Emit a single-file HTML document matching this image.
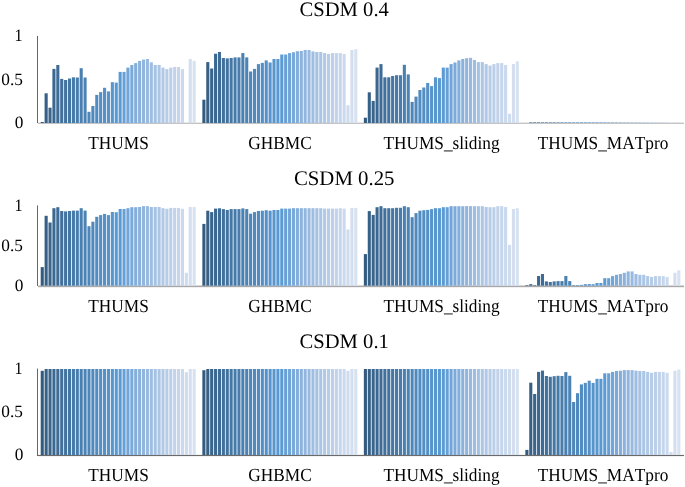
<!DOCTYPE html>
<html><head><meta charset="utf-8"><style>html,body{margin:0;padding:0;background:#fff;width:685px;height:487px;overflow:hidden}body{position:relative;font-family:"Liberation Serif",serif}</style></head>
<body><div style="position:absolute;left:0;top:0;width:685px;height:487px;will-change:transform"><svg width="685" height="487" viewBox="0 0 685 487" style="position:absolute;left:0;top:0">
<rect x="38" y="122" width="646" height="1" fill="#e8e8e8"/>
<rect x="40.700" y="122.00" width="3.095" height="1.00" fill="#335b7f"/>
<rect x="44.595" y="93.30" width="3.095" height="29.70" fill="#366085"/>
<rect x="48.490" y="107.70" width="3.095" height="15.30" fill="#39648b"/>
<rect x="52.385" y="68.90" width="3.095" height="54.10" fill="#3b6890"/>
<rect x="56.280" y="65.00" width="3.095" height="58.00" fill="#3e6c96"/>
<rect x="60.175" y="78.90" width="3.095" height="44.10" fill="#40709b"/>
<rect x="64.070" y="80.00" width="3.095" height="43.00" fill="#42739f"/>
<rect x="67.965" y="78.50" width="3.095" height="44.50" fill="#4477a4"/>
<rect x="71.860" y="77.30" width="3.095" height="45.70" fill="#467aa8"/>
<rect x="75.755" y="77.50" width="3.095" height="45.50" fill="#487dad"/>
<rect x="79.650" y="68.20" width="3.095" height="54.80" fill="#4a80b1"/>
<rect x="83.545" y="77.50" width="3.095" height="45.50" fill="#4c83b5"/>
<rect x="87.440" y="111.80" width="3.095" height="11.20" fill="#4e86b9"/>
<rect x="91.335" y="106.00" width="3.095" height="17.00" fill="#5089bd"/>
<rect x="95.230" y="94.90" width="3.095" height="28.10" fill="#518cc0"/>
<rect x="99.125" y="92.10" width="3.095" height="30.90" fill="#538ec4"/>
<rect x="103.020" y="87.80" width="3.095" height="35.20" fill="#5591c8"/>
<rect x="106.915" y="91.40" width="3.095" height="31.60" fill="#5694cb"/>
<rect x="110.810" y="82.20" width="3.095" height="40.80" fill="#5896ce"/>
<rect x="114.705" y="82.60" width="3.095" height="40.40" fill="#5999d2"/>
<rect x="118.600" y="71.90" width="3.095" height="51.10" fill="#5b9bd5"/>
<rect x="122.495" y="71.90" width="3.095" height="51.10" fill="#67a0d7"/>
<rect x="126.390" y="67.60" width="3.095" height="55.40" fill="#71a4d8"/>
<rect x="130.285" y="65.00" width="3.095" height="58.00" fill="#7aa9da"/>
<rect x="134.180" y="63.10" width="3.095" height="59.90" fill="#83addb"/>
<rect x="138.075" y="60.90" width="3.095" height="62.10" fill="#8bb1dd"/>
<rect x="141.970" y="59.60" width="3.095" height="63.40" fill="#92b5de"/>
<rect x="145.865" y="59.00" width="3.095" height="64.00" fill="#99b9e0"/>
<rect x="149.760" y="62.30" width="3.095" height="60.70" fill="#9fbde1"/>
<rect x="153.655" y="65.00" width="3.095" height="58.00" fill="#a5c1e3"/>
<rect x="157.550" y="65.00" width="3.095" height="58.00" fill="#abc5e4"/>
<rect x="161.445" y="67.60" width="3.095" height="55.40" fill="#b1c8e6"/>
<rect x="165.340" y="69.10" width="3.095" height="53.90" fill="#b6cce7"/>
<rect x="169.235" y="67.60" width="3.095" height="55.40" fill="#bccfe9"/>
<rect x="173.130" y="67.00" width="3.095" height="56.00" fill="#c1d2ea"/>
<rect x="177.025" y="67.00" width="3.095" height="56.00" fill="#c5d6ec"/>
<rect x="180.920" y="69.10" width="3.095" height="53.90" fill="#cad9ed"/>
<rect x="188.710" y="59.00" width="3.095" height="64.00" fill="#d3dff0"/>
<rect x="192.605" y="60.90" width="3.095" height="62.10" fill="#d7e2f1"/>
<rect x="202.350" y="99.70" width="3.095" height="23.30" fill="#335b7f"/>
<rect x="206.245" y="62.10" width="3.095" height="60.90" fill="#366085"/>
<rect x="210.140" y="68.50" width="3.095" height="54.50" fill="#39648b"/>
<rect x="214.035" y="53.70" width="3.095" height="69.30" fill="#3b6890"/>
<rect x="217.930" y="52.00" width="3.095" height="71.00" fill="#3e6c96"/>
<rect x="221.825" y="58.00" width="3.095" height="65.00" fill="#40709b"/>
<rect x="225.720" y="58.40" width="3.095" height="64.60" fill="#42739f"/>
<rect x="229.615" y="58.00" width="3.095" height="65.00" fill="#4477a4"/>
<rect x="233.510" y="57.40" width="3.095" height="65.60" fill="#467aa8"/>
<rect x="237.405" y="57.40" width="3.095" height="65.60" fill="#487dad"/>
<rect x="241.300" y="53.10" width="3.095" height="69.90" fill="#4a80b1"/>
<rect x="245.195" y="57.40" width="3.095" height="65.60" fill="#4c83b5"/>
<rect x="249.090" y="71.50" width="3.095" height="51.50" fill="#4e86b9"/>
<rect x="252.985" y="68.90" width="3.095" height="54.10" fill="#5089bd"/>
<rect x="256.880" y="64.10" width="3.095" height="58.90" fill="#518cc0"/>
<rect x="260.775" y="62.90" width="3.095" height="60.10" fill="#538ec4"/>
<rect x="264.670" y="60.40" width="3.095" height="62.60" fill="#5591c8"/>
<rect x="268.565" y="62.50" width="3.095" height="60.50" fill="#5694cb"/>
<rect x="272.460" y="59.00" width="3.095" height="64.00" fill="#5896ce"/>
<rect x="276.355" y="59.00" width="3.095" height="64.00" fill="#5999d2"/>
<rect x="280.250" y="54.50" width="3.095" height="68.50" fill="#5b9bd5"/>
<rect x="284.145" y="54.50" width="3.095" height="68.50" fill="#67a0d7"/>
<rect x="288.040" y="53.10" width="3.095" height="69.90" fill="#71a4d8"/>
<rect x="291.935" y="52.20" width="3.095" height="70.80" fill="#7aa9da"/>
<rect x="295.830" y="51.20" width="3.095" height="71.80" fill="#83addb"/>
<rect x="299.725" y="51.00" width="3.095" height="72.00" fill="#8bb1dd"/>
<rect x="303.620" y="50.00" width="3.095" height="73.00" fill="#92b5de"/>
<rect x="307.515" y="50.00" width="3.095" height="73.00" fill="#99b9e0"/>
<rect x="311.410" y="51.40" width="3.095" height="71.60" fill="#9fbde1"/>
<rect x="315.305" y="52.00" width="3.095" height="71.00" fill="#a5c1e3"/>
<rect x="319.200" y="52.00" width="3.095" height="71.00" fill="#abc5e4"/>
<rect x="323.095" y="53.10" width="3.095" height="69.90" fill="#b1c8e6"/>
<rect x="326.990" y="53.90" width="3.095" height="69.10" fill="#b6cce7"/>
<rect x="330.885" y="53.10" width="3.095" height="69.90" fill="#bccfe9"/>
<rect x="334.780" y="53.10" width="3.095" height="69.90" fill="#c1d2ea"/>
<rect x="338.675" y="53.10" width="3.095" height="69.90" fill="#c5d6ec"/>
<rect x="342.570" y="53.90" width="3.095" height="69.10" fill="#cad9ed"/>
<rect x="346.465" y="105.20" width="3.095" height="17.80" fill="#cfdcee"/>
<rect x="350.360" y="50.00" width="3.095" height="73.00" fill="#d3dff0"/>
<rect x="354.255" y="49.20" width="3.095" height="73.80" fill="#d7e2f1"/>
<rect x="363.850" y="117.70" width="3.095" height="5.30" fill="#335b7f"/>
<rect x="367.745" y="92.30" width="3.095" height="30.70" fill="#366085"/>
<rect x="371.640" y="100.90" width="3.095" height="22.10" fill="#39648b"/>
<rect x="375.535" y="67.60" width="3.095" height="55.40" fill="#3b6890"/>
<rect x="379.430" y="64.10" width="3.095" height="58.90" fill="#3e6c96"/>
<rect x="383.325" y="77.30" width="3.095" height="45.70" fill="#40709b"/>
<rect x="387.220" y="77.30" width="3.095" height="45.70" fill="#42739f"/>
<rect x="391.115" y="76.00" width="3.095" height="47.00" fill="#4477a4"/>
<rect x="395.010" y="75.20" width="3.095" height="47.80" fill="#467aa8"/>
<rect x="398.905" y="75.20" width="3.095" height="47.80" fill="#487dad"/>
<rect x="402.800" y="64.80" width="3.095" height="58.20" fill="#4a80b1"/>
<rect x="406.695" y="74.40" width="3.095" height="48.60" fill="#4c83b5"/>
<rect x="410.590" y="101.90" width="3.095" height="21.10" fill="#4e86b9"/>
<rect x="414.485" y="96.60" width="3.095" height="26.40" fill="#5089bd"/>
<rect x="418.380" y="90.00" width="3.095" height="33.00" fill="#518cc0"/>
<rect x="422.275" y="87.50" width="3.095" height="35.50" fill="#538ec4"/>
<rect x="426.170" y="83.00" width="3.095" height="40.00" fill="#5591c8"/>
<rect x="430.065" y="86.10" width="3.095" height="36.90" fill="#5694cb"/>
<rect x="433.960" y="77.30" width="3.095" height="45.70" fill="#5896ce"/>
<rect x="437.855" y="78.10" width="3.095" height="44.90" fill="#5999d2"/>
<rect x="441.750" y="67.60" width="3.095" height="55.40" fill="#5b9bd5"/>
<rect x="445.645" y="67.60" width="3.095" height="55.40" fill="#67a0d7"/>
<rect x="449.540" y="64.10" width="3.095" height="58.90" fill="#71a4d8"/>
<rect x="453.435" y="62.50" width="3.095" height="60.50" fill="#7aa9da"/>
<rect x="457.330" y="60.40" width="3.095" height="62.60" fill="#83addb"/>
<rect x="461.225" y="59.00" width="3.095" height="64.00" fill="#8bb1dd"/>
<rect x="465.120" y="58.20" width="3.095" height="64.80" fill="#92b5de"/>
<rect x="469.015" y="57.80" width="3.095" height="65.20" fill="#99b9e0"/>
<rect x="472.910" y="60.00" width="3.095" height="63.00" fill="#9fbde1"/>
<rect x="476.805" y="62.10" width="3.095" height="60.90" fill="#a5c1e3"/>
<rect x="480.700" y="62.10" width="3.095" height="60.90" fill="#abc5e4"/>
<rect x="484.595" y="64.10" width="3.095" height="58.90" fill="#b1c8e6"/>
<rect x="488.490" y="65.60" width="3.095" height="57.40" fill="#b6cce7"/>
<rect x="492.385" y="64.10" width="3.095" height="58.90" fill="#bccfe9"/>
<rect x="496.280" y="63.10" width="3.095" height="59.90" fill="#c1d2ea"/>
<rect x="500.175" y="63.10" width="3.095" height="59.90" fill="#c5d6ec"/>
<rect x="504.070" y="65.00" width="3.095" height="58.00" fill="#cad9ed"/>
<rect x="507.965" y="113.80" width="3.095" height="9.20" fill="#cfdcee"/>
<rect x="511.860" y="64.10" width="3.095" height="58.90" fill="#d3dff0"/>
<rect x="515.755" y="61.30" width="3.095" height="61.70" fill="#d7e2f1"/>
<rect x="529.245" y="122.45" width="3.095" height="0.55" fill="#366085"/>
<rect x="533.140" y="122.45" width="3.095" height="0.55" fill="#39648b"/>
<rect x="537.035" y="122.45" width="3.095" height="0.55" fill="#3b6890"/>
<rect x="540.930" y="122.45" width="3.095" height="0.55" fill="#3e6c96"/>
<rect x="544.825" y="122.45" width="3.095" height="0.55" fill="#40709b"/>
<rect x="548.720" y="122.45" width="3.095" height="0.55" fill="#42739f"/>
<rect x="552.615" y="122.45" width="3.095" height="0.55" fill="#4477a4"/>
<rect x="556.510" y="122.45" width="3.095" height="0.55" fill="#467aa8"/>
<rect x="560.405" y="122.45" width="3.095" height="0.55" fill="#487dad"/>
<rect x="564.300" y="122.45" width="3.095" height="0.55" fill="#4a80b1"/>
<rect x="568.195" y="122.45" width="3.095" height="0.55" fill="#4c83b5"/>
<rect x="572.090" y="122.45" width="3.095" height="0.55" fill="#4e86b9"/>
<rect x="575.985" y="122.45" width="3.095" height="0.55" fill="#5089bd"/>
<rect x="579.880" y="122.45" width="3.095" height="0.55" fill="#518cc0"/>
<rect x="583.775" y="122.45" width="3.095" height="0.55" fill="#538ec4"/>
<rect x="587.670" y="122.45" width="3.095" height="0.55" fill="#5591c8"/>
<rect x="591.565" y="122.45" width="3.095" height="0.55" fill="#5694cb"/>
<rect x="595.460" y="122.45" width="3.095" height="0.55" fill="#5896ce"/>
<rect x="599.355" y="122.45" width="3.095" height="0.55" fill="#5999d2"/>
<rect x="603.250" y="122.45" width="3.095" height="0.55" fill="#5b9bd5"/>
<rect x="607.145" y="122.45" width="3.095" height="0.55" fill="#67a0d7"/>
<rect x="611.040" y="122.45" width="3.095" height="0.55" fill="#71a4d8"/>
<rect x="614.935" y="122.45" width="3.095" height="0.55" fill="#7aa9da"/>
<rect x="618.830" y="122.45" width="3.095" height="0.55" fill="#83addb"/>
<rect x="622.725" y="122.45" width="3.095" height="0.55" fill="#8bb1dd"/>
<rect x="626.620" y="122.45" width="3.095" height="0.55" fill="#92b5de"/>
<rect x="630.515" y="122.45" width="3.095" height="0.55" fill="#99b9e0"/>
<rect x="634.410" y="122.45" width="3.095" height="0.55" fill="#9fbde1"/>
<rect x="638.305" y="122.45" width="3.095" height="0.55" fill="#a5c1e3"/>
<rect x="642.200" y="122.45" width="3.095" height="0.55" fill="#abc5e4"/>
<rect x="646.095" y="122.45" width="3.095" height="0.55" fill="#b1c8e6"/>
<rect x="649.990" y="122.45" width="3.095" height="0.55" fill="#b6cce7"/>
<rect x="653.885" y="122.45" width="3.095" height="0.55" fill="#bccfe9"/>
<rect x="657.780" y="122.45" width="3.095" height="0.55" fill="#c1d2ea"/>
<rect x="661.675" y="122.45" width="3.095" height="0.55" fill="#c5d6ec"/>
<rect x="665.570" y="122.45" width="3.095" height="0.55" fill="#cad9ed"/>
<rect x="673.360" y="122.45" width="3.095" height="0.55" fill="#d3dff0"/>
<rect x="677.255" y="122.45" width="3.095" height="0.55" fill="#d7e2f1"/>
<rect x="38" y="123" width="646" height="1" fill="#c4c4c4"/>
<rect x="37" y="35.90" width="1" height="87.20" fill="#666"/>
<rect x="38" y="285" width="646" height="1" fill="#d8d8d8"/>
<rect x="40.700" y="267.10" width="3.095" height="18.60" fill="#335b7f"/>
<rect x="44.595" y="215.80" width="3.095" height="69.90" fill="#366085"/>
<rect x="48.490" y="222.50" width="3.095" height="63.20" fill="#39648b"/>
<rect x="52.385" y="208.20" width="3.095" height="77.50" fill="#3b6890"/>
<rect x="56.280" y="207.20" width="3.095" height="78.50" fill="#3e6c96"/>
<rect x="60.175" y="211.00" width="3.095" height="74.70" fill="#40709b"/>
<rect x="64.070" y="211.40" width="3.095" height="74.30" fill="#42739f"/>
<rect x="67.965" y="211.00" width="3.095" height="74.70" fill="#4477a4"/>
<rect x="71.860" y="210.60" width="3.095" height="75.10" fill="#467aa8"/>
<rect x="75.755" y="210.60" width="3.095" height="75.10" fill="#487dad"/>
<rect x="79.650" y="208.20" width="3.095" height="77.50" fill="#4a80b1"/>
<rect x="83.545" y="210.60" width="3.095" height="75.10" fill="#4c83b5"/>
<rect x="87.440" y="226.20" width="3.095" height="59.50" fill="#4e86b9"/>
<rect x="91.335" y="221.70" width="3.095" height="64.00" fill="#5089bd"/>
<rect x="95.230" y="216.80" width="3.095" height="68.90" fill="#518cc0"/>
<rect x="99.125" y="215.10" width="3.095" height="70.60" fill="#538ec4"/>
<rect x="103.020" y="213.90" width="3.095" height="71.80" fill="#5591c8"/>
<rect x="106.915" y="215.10" width="3.095" height="70.60" fill="#5694cb"/>
<rect x="110.810" y="212.00" width="3.095" height="73.70" fill="#5896ce"/>
<rect x="114.705" y="212.20" width="3.095" height="73.50" fill="#5999d2"/>
<rect x="118.600" y="209.00" width="3.095" height="76.70" fill="#5b9bd5"/>
<rect x="122.495" y="209.00" width="3.095" height="76.70" fill="#67a0d7"/>
<rect x="126.390" y="208.20" width="3.095" height="77.50" fill="#71a4d8"/>
<rect x="130.285" y="207.20" width="3.095" height="78.50" fill="#7aa9da"/>
<rect x="134.180" y="207.20" width="3.095" height="78.50" fill="#83addb"/>
<rect x="138.075" y="207.00" width="3.095" height="78.70" fill="#8bb1dd"/>
<rect x="141.970" y="206.10" width="3.095" height="79.60" fill="#92b5de"/>
<rect x="145.865" y="206.10" width="3.095" height="79.60" fill="#99b9e0"/>
<rect x="149.760" y="207.00" width="3.095" height="78.70" fill="#9fbde1"/>
<rect x="153.655" y="207.00" width="3.095" height="78.70" fill="#a5c1e3"/>
<rect x="157.550" y="207.00" width="3.095" height="78.70" fill="#abc5e4"/>
<rect x="161.445" y="208.20" width="3.095" height="77.50" fill="#b1c8e6"/>
<rect x="165.340" y="208.80" width="3.095" height="76.90" fill="#b6cce7"/>
<rect x="169.235" y="207.90" width="3.095" height="77.80" fill="#bccfe9"/>
<rect x="173.130" y="207.90" width="3.095" height="77.80" fill="#c1d2ea"/>
<rect x="177.025" y="207.90" width="3.095" height="77.80" fill="#c5d6ec"/>
<rect x="180.920" y="208.80" width="3.095" height="76.90" fill="#cad9ed"/>
<rect x="184.815" y="272.80" width="3.095" height="12.90" fill="#cfdcee"/>
<rect x="188.710" y="207.00" width="3.095" height="78.70" fill="#d3dff0"/>
<rect x="192.605" y="207.00" width="3.095" height="78.70" fill="#d7e2f1"/>
<rect x="202.350" y="223.90" width="3.095" height="61.80" fill="#335b7f"/>
<rect x="206.245" y="210.70" width="3.095" height="75.00" fill="#366085"/>
<rect x="210.140" y="212.10" width="3.095" height="73.60" fill="#39648b"/>
<rect x="214.035" y="208.60" width="3.095" height="77.10" fill="#3b6890"/>
<rect x="217.930" y="208.30" width="3.095" height="77.40" fill="#3e6c96"/>
<rect x="221.825" y="209.10" width="3.095" height="76.60" fill="#40709b"/>
<rect x="225.720" y="210.00" width="3.095" height="75.70" fill="#42739f"/>
<rect x="229.615" y="209.10" width="3.095" height="76.60" fill="#4477a4"/>
<rect x="233.510" y="209.10" width="3.095" height="76.60" fill="#467aa8"/>
<rect x="237.405" y="209.10" width="3.095" height="76.60" fill="#487dad"/>
<rect x="241.300" y="208.40" width="3.095" height="77.30" fill="#4a80b1"/>
<rect x="245.195" y="209.10" width="3.095" height="76.60" fill="#4c83b5"/>
<rect x="249.090" y="213.70" width="3.095" height="72.00" fill="#4e86b9"/>
<rect x="252.985" y="212.10" width="3.095" height="73.60" fill="#5089bd"/>
<rect x="256.880" y="211.00" width="3.095" height="74.70" fill="#518cc0"/>
<rect x="260.775" y="210.70" width="3.095" height="75.00" fill="#538ec4"/>
<rect x="264.670" y="210.20" width="3.095" height="75.50" fill="#5591c8"/>
<rect x="268.565" y="210.70" width="3.095" height="75.00" fill="#5694cb"/>
<rect x="272.460" y="210.00" width="3.095" height="75.70" fill="#5896ce"/>
<rect x="276.355" y="210.00" width="3.095" height="75.70" fill="#5999d2"/>
<rect x="280.250" y="208.60" width="3.095" height="77.10" fill="#5b9bd5"/>
<rect x="284.145" y="208.60" width="3.095" height="77.10" fill="#67a0d7"/>
<rect x="288.040" y="208.60" width="3.095" height="77.10" fill="#71a4d8"/>
<rect x="291.935" y="208.20" width="3.095" height="77.50" fill="#7aa9da"/>
<rect x="295.830" y="208.20" width="3.095" height="77.50" fill="#83addb"/>
<rect x="299.725" y="208.20" width="3.095" height="77.50" fill="#8bb1dd"/>
<rect x="303.620" y="208.20" width="3.095" height="77.50" fill="#92b5de"/>
<rect x="307.515" y="208.20" width="3.095" height="77.50" fill="#99b9e0"/>
<rect x="311.410" y="208.20" width="3.095" height="77.50" fill="#9fbde1"/>
<rect x="315.305" y="208.20" width="3.095" height="77.50" fill="#a5c1e3"/>
<rect x="319.200" y="208.20" width="3.095" height="77.50" fill="#abc5e4"/>
<rect x="323.095" y="208.60" width="3.095" height="77.10" fill="#b1c8e6"/>
<rect x="326.990" y="208.60" width="3.095" height="77.10" fill="#b6cce7"/>
<rect x="330.885" y="208.60" width="3.095" height="77.10" fill="#bccfe9"/>
<rect x="334.780" y="208.60" width="3.095" height="77.10" fill="#c1d2ea"/>
<rect x="338.675" y="208.20" width="3.095" height="77.50" fill="#c5d6ec"/>
<rect x="342.570" y="208.60" width="3.095" height="77.10" fill="#cad9ed"/>
<rect x="346.465" y="229.50" width="3.095" height="56.20" fill="#cfdcee"/>
<rect x="350.360" y="207.90" width="3.095" height="77.80" fill="#d3dff0"/>
<rect x="354.255" y="207.90" width="3.095" height="77.80" fill="#d7e2f1"/>
<rect x="363.850" y="254.10" width="3.095" height="31.60" fill="#335b7f"/>
<rect x="367.745" y="211.10" width="3.095" height="74.60" fill="#366085"/>
<rect x="371.640" y="214.90" width="3.095" height="70.80" fill="#39648b"/>
<rect x="375.535" y="207.20" width="3.095" height="78.50" fill="#3b6890"/>
<rect x="379.430" y="206.20" width="3.095" height="79.50" fill="#3e6c96"/>
<rect x="383.325" y="208.20" width="3.095" height="77.50" fill="#40709b"/>
<rect x="387.220" y="208.20" width="3.095" height="77.50" fill="#42739f"/>
<rect x="391.115" y="208.20" width="3.095" height="77.50" fill="#4477a4"/>
<rect x="395.010" y="207.80" width="3.095" height="77.90" fill="#467aa8"/>
<rect x="398.905" y="207.80" width="3.095" height="77.90" fill="#487dad"/>
<rect x="402.800" y="206.20" width="3.095" height="79.50" fill="#4a80b1"/>
<rect x="406.695" y="207.20" width="3.095" height="78.50" fill="#4c83b5"/>
<rect x="410.590" y="217.20" width="3.095" height="68.50" fill="#4e86b9"/>
<rect x="414.485" y="213.10" width="3.095" height="72.60" fill="#5089bd"/>
<rect x="418.380" y="210.70" width="3.095" height="75.00" fill="#518cc0"/>
<rect x="422.275" y="210.20" width="3.095" height="75.50" fill="#538ec4"/>
<rect x="426.170" y="209.90" width="3.095" height="75.80" fill="#5591c8"/>
<rect x="430.065" y="209.10" width="3.095" height="76.60" fill="#5694cb"/>
<rect x="433.960" y="208.20" width="3.095" height="77.50" fill="#5896ce"/>
<rect x="437.855" y="208.20" width="3.095" height="77.50" fill="#5999d2"/>
<rect x="441.750" y="207.20" width="3.095" height="78.50" fill="#5b9bd5"/>
<rect x="445.645" y="207.20" width="3.095" height="78.50" fill="#67a0d7"/>
<rect x="449.540" y="206.20" width="3.095" height="79.50" fill="#71a4d8"/>
<rect x="453.435" y="206.20" width="3.095" height="79.50" fill="#7aa9da"/>
<rect x="457.330" y="206.20" width="3.095" height="79.50" fill="#83addb"/>
<rect x="461.225" y="206.20" width="3.095" height="79.50" fill="#8bb1dd"/>
<rect x="465.120" y="206.10" width="3.095" height="79.60" fill="#92b5de"/>
<rect x="469.015" y="206.10" width="3.095" height="79.60" fill="#99b9e0"/>
<rect x="472.910" y="206.20" width="3.095" height="79.50" fill="#9fbde1"/>
<rect x="476.805" y="206.20" width="3.095" height="79.50" fill="#a5c1e3"/>
<rect x="480.700" y="206.20" width="3.095" height="79.50" fill="#abc5e4"/>
<rect x="484.595" y="207.00" width="3.095" height="78.70" fill="#b1c8e6"/>
<rect x="488.490" y="207.20" width="3.095" height="78.50" fill="#b6cce7"/>
<rect x="492.385" y="207.20" width="3.095" height="78.50" fill="#bccfe9"/>
<rect x="496.280" y="206.20" width="3.095" height="79.50" fill="#c1d2ea"/>
<rect x="500.175" y="206.20" width="3.095" height="79.50" fill="#c5d6ec"/>
<rect x="504.070" y="207.00" width="3.095" height="78.70" fill="#cad9ed"/>
<rect x="507.965" y="244.90" width="3.095" height="40.80" fill="#cfdcee"/>
<rect x="511.860" y="209.00" width="3.095" height="76.70" fill="#d3dff0"/>
<rect x="515.755" y="208.20" width="3.095" height="77.50" fill="#d7e2f1"/>
<rect x="525.350" y="285.10" width="3.095" height="0.60" fill="#335b7f"/>
<rect x="529.245" y="284.20" width="3.095" height="1.50" fill="#366085"/>
<rect x="533.140" y="285.10" width="3.095" height="0.60" fill="#39648b"/>
<rect x="537.035" y="276.00" width="3.095" height="9.70" fill="#3b6890"/>
<rect x="540.930" y="274.00" width="3.095" height="11.70" fill="#3e6c96"/>
<rect x="544.825" y="281.40" width="3.095" height="4.30" fill="#40709b"/>
<rect x="548.720" y="282.00" width="3.095" height="3.70" fill="#42739f"/>
<rect x="552.615" y="281.40" width="3.095" height="4.30" fill="#4477a4"/>
<rect x="556.510" y="281.10" width="3.095" height="4.60" fill="#467aa8"/>
<rect x="560.405" y="281.10" width="3.095" height="4.60" fill="#487dad"/>
<rect x="564.300" y="276.00" width="3.095" height="9.70" fill="#4a80b1"/>
<rect x="568.195" y="281.10" width="3.095" height="4.60" fill="#4c83b5"/>
<rect x="572.090" y="285.10" width="3.095" height="0.60" fill="#4e86b9"/>
<rect x="575.985" y="285.10" width="3.095" height="0.60" fill="#5089bd"/>
<rect x="579.880" y="284.90" width="3.095" height="0.80" fill="#518cc0"/>
<rect x="583.775" y="284.20" width="3.095" height="1.50" fill="#538ec4"/>
<rect x="587.670" y="284.10" width="3.095" height="1.60" fill="#5591c8"/>
<rect x="591.565" y="284.20" width="3.095" height="1.50" fill="#5694cb"/>
<rect x="595.460" y="283.00" width="3.095" height="2.70" fill="#5896ce"/>
<rect x="599.355" y="283.00" width="3.095" height="2.70" fill="#5999d2"/>
<rect x="603.250" y="278.20" width="3.095" height="7.50" fill="#5b9bd5"/>
<rect x="607.145" y="278.20" width="3.095" height="7.50" fill="#67a0d7"/>
<rect x="611.040" y="276.10" width="3.095" height="9.60" fill="#71a4d8"/>
<rect x="614.935" y="274.80" width="3.095" height="10.90" fill="#7aa9da"/>
<rect x="618.830" y="274.00" width="3.095" height="11.70" fill="#83addb"/>
<rect x="622.725" y="272.80" width="3.095" height="12.90" fill="#8bb1dd"/>
<rect x="626.620" y="271.40" width="3.095" height="14.30" fill="#92b5de"/>
<rect x="630.515" y="271.40" width="3.095" height="14.30" fill="#99b9e0"/>
<rect x="634.410" y="274.00" width="3.095" height="11.70" fill="#9fbde1"/>
<rect x="638.305" y="274.80" width="3.095" height="10.90" fill="#a5c1e3"/>
<rect x="642.200" y="274.80" width="3.095" height="10.90" fill="#abc5e4"/>
<rect x="646.095" y="276.10" width="3.095" height="9.60" fill="#b1c8e6"/>
<rect x="649.990" y="276.90" width="3.095" height="8.80" fill="#b6cce7"/>
<rect x="653.885" y="276.10" width="3.095" height="9.60" fill="#bccfe9"/>
<rect x="657.780" y="276.10" width="3.095" height="9.60" fill="#c1d2ea"/>
<rect x="661.675" y="276.10" width="3.095" height="9.60" fill="#c5d6ec"/>
<rect x="665.570" y="277.10" width="3.095" height="8.60" fill="#cad9ed"/>
<rect x="673.360" y="272.80" width="3.095" height="12.90" fill="#d3dff0"/>
<rect x="677.255" y="270.30" width="3.095" height="15.40" fill="#d7e2f1"/>
<rect x="38" y="286" width="646" height="1" fill="#a8a8a8"/>
<rect x="38" y="287" width="646" height="1" fill="#f0f0f0"/>
<rect x="37" y="205.40" width="1" height="80.50" fill="#666"/>
<rect x="38" y="454" width="646" height="1" fill="#f2f2f2"/>
<rect x="40.700" y="370.80" width="3.095" height="84.20" fill="#335b7f"/>
<rect x="44.595" y="369.00" width="3.095" height="86.00" fill="#366085"/>
<rect x="48.490" y="369.00" width="3.095" height="86.00" fill="#39648b"/>
<rect x="52.385" y="369.00" width="3.095" height="86.00" fill="#3b6890"/>
<rect x="56.280" y="369.00" width="3.095" height="86.00" fill="#3e6c96"/>
<rect x="60.175" y="369.00" width="3.095" height="86.00" fill="#40709b"/>
<rect x="64.070" y="369.00" width="3.095" height="86.00" fill="#42739f"/>
<rect x="67.965" y="369.00" width="3.095" height="86.00" fill="#4477a4"/>
<rect x="71.860" y="369.00" width="3.095" height="86.00" fill="#467aa8"/>
<rect x="75.755" y="369.00" width="3.095" height="86.00" fill="#487dad"/>
<rect x="79.650" y="369.00" width="3.095" height="86.00" fill="#4a80b1"/>
<rect x="83.545" y="369.00" width="3.095" height="86.00" fill="#4c83b5"/>
<rect x="87.440" y="369.00" width="3.095" height="86.00" fill="#4e86b9"/>
<rect x="91.335" y="369.00" width="3.095" height="86.00" fill="#5089bd"/>
<rect x="95.230" y="369.00" width="3.095" height="86.00" fill="#518cc0"/>
<rect x="99.125" y="369.00" width="3.095" height="86.00" fill="#538ec4"/>
<rect x="103.020" y="369.00" width="3.095" height="86.00" fill="#5591c8"/>
<rect x="106.915" y="369.00" width="3.095" height="86.00" fill="#5694cb"/>
<rect x="110.810" y="369.00" width="3.095" height="86.00" fill="#5896ce"/>
<rect x="114.705" y="369.00" width="3.095" height="86.00" fill="#5999d2"/>
<rect x="118.600" y="369.00" width="3.095" height="86.00" fill="#5b9bd5"/>
<rect x="122.495" y="369.00" width="3.095" height="86.00" fill="#67a0d7"/>
<rect x="126.390" y="369.00" width="3.095" height="86.00" fill="#71a4d8"/>
<rect x="130.285" y="369.00" width="3.095" height="86.00" fill="#7aa9da"/>
<rect x="134.180" y="369.00" width="3.095" height="86.00" fill="#83addb"/>
<rect x="138.075" y="369.00" width="3.095" height="86.00" fill="#8bb1dd"/>
<rect x="141.970" y="369.00" width="3.095" height="86.00" fill="#92b5de"/>
<rect x="145.865" y="369.00" width="3.095" height="86.00" fill="#99b9e0"/>
<rect x="149.760" y="369.00" width="3.095" height="86.00" fill="#9fbde1"/>
<rect x="153.655" y="369.00" width="3.095" height="86.00" fill="#a5c1e3"/>
<rect x="157.550" y="369.00" width="3.095" height="86.00" fill="#abc5e4"/>
<rect x="161.445" y="369.00" width="3.095" height="86.00" fill="#b1c8e6"/>
<rect x="165.340" y="369.00" width="3.095" height="86.00" fill="#b6cce7"/>
<rect x="169.235" y="369.00" width="3.095" height="86.00" fill="#bccfe9"/>
<rect x="173.130" y="369.00" width="3.095" height="86.00" fill="#c1d2ea"/>
<rect x="177.025" y="369.00" width="3.095" height="86.00" fill="#c5d6ec"/>
<rect x="180.920" y="369.00" width="3.095" height="86.00" fill="#cad9ed"/>
<rect x="184.815" y="372.20" width="3.095" height="82.80" fill="#cfdcee"/>
<rect x="188.710" y="369.00" width="3.095" height="86.00" fill="#d3dff0"/>
<rect x="192.605" y="369.00" width="3.095" height="86.00" fill="#d7e2f1"/>
<rect x="202.350" y="370.20" width="3.095" height="84.80" fill="#335b7f"/>
<rect x="206.245" y="369.00" width="3.095" height="86.00" fill="#366085"/>
<rect x="210.140" y="369.00" width="3.095" height="86.00" fill="#39648b"/>
<rect x="214.035" y="369.00" width="3.095" height="86.00" fill="#3b6890"/>
<rect x="217.930" y="369.00" width="3.095" height="86.00" fill="#3e6c96"/>
<rect x="221.825" y="369.00" width="3.095" height="86.00" fill="#40709b"/>
<rect x="225.720" y="369.00" width="3.095" height="86.00" fill="#42739f"/>
<rect x="229.615" y="369.00" width="3.095" height="86.00" fill="#4477a4"/>
<rect x="233.510" y="369.00" width="3.095" height="86.00" fill="#467aa8"/>
<rect x="237.405" y="369.00" width="3.095" height="86.00" fill="#487dad"/>
<rect x="241.300" y="369.00" width="3.095" height="86.00" fill="#4a80b1"/>
<rect x="245.195" y="369.00" width="3.095" height="86.00" fill="#4c83b5"/>
<rect x="249.090" y="369.00" width="3.095" height="86.00" fill="#4e86b9"/>
<rect x="252.985" y="369.00" width="3.095" height="86.00" fill="#5089bd"/>
<rect x="256.880" y="369.00" width="3.095" height="86.00" fill="#518cc0"/>
<rect x="260.775" y="369.00" width="3.095" height="86.00" fill="#538ec4"/>
<rect x="264.670" y="369.00" width="3.095" height="86.00" fill="#5591c8"/>
<rect x="268.565" y="369.00" width="3.095" height="86.00" fill="#5694cb"/>
<rect x="272.460" y="369.00" width="3.095" height="86.00" fill="#5896ce"/>
<rect x="276.355" y="369.00" width="3.095" height="86.00" fill="#5999d2"/>
<rect x="280.250" y="369.00" width="3.095" height="86.00" fill="#5b9bd5"/>
<rect x="284.145" y="369.00" width="3.095" height="86.00" fill="#67a0d7"/>
<rect x="288.040" y="369.00" width="3.095" height="86.00" fill="#71a4d8"/>
<rect x="291.935" y="369.00" width="3.095" height="86.00" fill="#7aa9da"/>
<rect x="295.830" y="369.00" width="3.095" height="86.00" fill="#83addb"/>
<rect x="299.725" y="369.00" width="3.095" height="86.00" fill="#8bb1dd"/>
<rect x="303.620" y="369.00" width="3.095" height="86.00" fill="#92b5de"/>
<rect x="307.515" y="369.00" width="3.095" height="86.00" fill="#99b9e0"/>
<rect x="311.410" y="369.00" width="3.095" height="86.00" fill="#9fbde1"/>
<rect x="315.305" y="369.00" width="3.095" height="86.00" fill="#a5c1e3"/>
<rect x="319.200" y="369.00" width="3.095" height="86.00" fill="#abc5e4"/>
<rect x="323.095" y="369.00" width="3.095" height="86.00" fill="#b1c8e6"/>
<rect x="326.990" y="369.00" width="3.095" height="86.00" fill="#b6cce7"/>
<rect x="330.885" y="369.00" width="3.095" height="86.00" fill="#bccfe9"/>
<rect x="334.780" y="369.00" width="3.095" height="86.00" fill="#c1d2ea"/>
<rect x="338.675" y="369.00" width="3.095" height="86.00" fill="#c5d6ec"/>
<rect x="342.570" y="369.00" width="3.095" height="86.00" fill="#cad9ed"/>
<rect x="346.465" y="370.80" width="3.095" height="84.20" fill="#cfdcee"/>
<rect x="350.360" y="369.00" width="3.095" height="86.00" fill="#d3dff0"/>
<rect x="354.255" y="369.00" width="3.095" height="86.00" fill="#d7e2f1"/>
<rect x="363.850" y="369.00" width="3.095" height="86.00" fill="#335b7f"/>
<rect x="367.745" y="369.00" width="3.095" height="86.00" fill="#366085"/>
<rect x="371.640" y="369.00" width="3.095" height="86.00" fill="#39648b"/>
<rect x="375.535" y="369.00" width="3.095" height="86.00" fill="#3b6890"/>
<rect x="379.430" y="369.00" width="3.095" height="86.00" fill="#3e6c96"/>
<rect x="383.325" y="369.00" width="3.095" height="86.00" fill="#40709b"/>
<rect x="387.220" y="369.00" width="3.095" height="86.00" fill="#42739f"/>
<rect x="391.115" y="369.00" width="3.095" height="86.00" fill="#4477a4"/>
<rect x="395.010" y="369.00" width="3.095" height="86.00" fill="#467aa8"/>
<rect x="398.905" y="369.00" width="3.095" height="86.00" fill="#487dad"/>
<rect x="402.800" y="369.00" width="3.095" height="86.00" fill="#4a80b1"/>
<rect x="406.695" y="369.00" width="3.095" height="86.00" fill="#4c83b5"/>
<rect x="410.590" y="369.00" width="3.095" height="86.00" fill="#4e86b9"/>
<rect x="414.485" y="369.00" width="3.095" height="86.00" fill="#5089bd"/>
<rect x="418.380" y="369.00" width="3.095" height="86.00" fill="#518cc0"/>
<rect x="422.275" y="369.00" width="3.095" height="86.00" fill="#538ec4"/>
<rect x="426.170" y="369.00" width="3.095" height="86.00" fill="#5591c8"/>
<rect x="430.065" y="369.00" width="3.095" height="86.00" fill="#5694cb"/>
<rect x="433.960" y="369.00" width="3.095" height="86.00" fill="#5896ce"/>
<rect x="437.855" y="369.00" width="3.095" height="86.00" fill="#5999d2"/>
<rect x="441.750" y="369.00" width="3.095" height="86.00" fill="#5b9bd5"/>
<rect x="445.645" y="369.00" width="3.095" height="86.00" fill="#67a0d7"/>
<rect x="449.540" y="369.00" width="3.095" height="86.00" fill="#71a4d8"/>
<rect x="453.435" y="369.00" width="3.095" height="86.00" fill="#7aa9da"/>
<rect x="457.330" y="369.00" width="3.095" height="86.00" fill="#83addb"/>
<rect x="461.225" y="369.00" width="3.095" height="86.00" fill="#8bb1dd"/>
<rect x="465.120" y="369.00" width="3.095" height="86.00" fill="#92b5de"/>
<rect x="469.015" y="369.00" width="3.095" height="86.00" fill="#99b9e0"/>
<rect x="472.910" y="369.00" width="3.095" height="86.00" fill="#9fbde1"/>
<rect x="476.805" y="369.00" width="3.095" height="86.00" fill="#a5c1e3"/>
<rect x="480.700" y="369.00" width="3.095" height="86.00" fill="#abc5e4"/>
<rect x="484.595" y="369.00" width="3.095" height="86.00" fill="#b1c8e6"/>
<rect x="488.490" y="369.00" width="3.095" height="86.00" fill="#b6cce7"/>
<rect x="492.385" y="369.00" width="3.095" height="86.00" fill="#bccfe9"/>
<rect x="496.280" y="369.00" width="3.095" height="86.00" fill="#c1d2ea"/>
<rect x="500.175" y="369.00" width="3.095" height="86.00" fill="#c5d6ec"/>
<rect x="504.070" y="369.00" width="3.095" height="86.00" fill="#cad9ed"/>
<rect x="507.965" y="369.00" width="3.095" height="86.00" fill="#cfdcee"/>
<rect x="511.860" y="369.00" width="3.095" height="86.00" fill="#d3dff0"/>
<rect x="515.755" y="369.00" width="3.095" height="86.00" fill="#d7e2f1"/>
<rect x="525.350" y="449.90" width="3.095" height="5.10" fill="#335b7f"/>
<rect x="529.245" y="382.70" width="3.095" height="72.30" fill="#366085"/>
<rect x="533.140" y="394.00" width="3.095" height="61.00" fill="#39648b"/>
<rect x="537.035" y="371.90" width="3.095" height="83.10" fill="#3b6890"/>
<rect x="540.930" y="370.60" width="3.095" height="84.40" fill="#3e6c96"/>
<rect x="544.825" y="376.00" width="3.095" height="79.00" fill="#40709b"/>
<rect x="548.720" y="376.80" width="3.095" height="78.20" fill="#42739f"/>
<rect x="552.615" y="376.20" width="3.095" height="78.80" fill="#4477a4"/>
<rect x="556.510" y="375.80" width="3.095" height="79.20" fill="#467aa8"/>
<rect x="560.405" y="376.00" width="3.095" height="79.00" fill="#487dad"/>
<rect x="564.300" y="372.10" width="3.095" height="82.90" fill="#4a80b1"/>
<rect x="568.195" y="375.80" width="3.095" height="79.20" fill="#4c83b5"/>
<rect x="572.090" y="402.00" width="3.095" height="53.00" fill="#4e86b9"/>
<rect x="575.985" y="393.20" width="3.095" height="61.80" fill="#5089bd"/>
<rect x="579.880" y="384.40" width="3.095" height="70.60" fill="#518cc0"/>
<rect x="583.775" y="382.90" width="3.095" height="72.10" fill="#538ec4"/>
<rect x="587.670" y="380.70" width="3.095" height="74.30" fill="#5591c8"/>
<rect x="591.565" y="382.90" width="3.095" height="72.10" fill="#5694cb"/>
<rect x="595.460" y="378.80" width="3.095" height="76.20" fill="#5896ce"/>
<rect x="599.355" y="378.80" width="3.095" height="76.20" fill="#5999d2"/>
<rect x="603.250" y="373.30" width="3.095" height="81.70" fill="#5b9bd5"/>
<rect x="607.145" y="373.30" width="3.095" height="81.70" fill="#67a0d7"/>
<rect x="611.040" y="371.90" width="3.095" height="83.10" fill="#71a4d8"/>
<rect x="614.935" y="371.00" width="3.095" height="84.00" fill="#7aa9da"/>
<rect x="618.830" y="370.70" width="3.095" height="84.30" fill="#83addb"/>
<rect x="622.725" y="370.10" width="3.095" height="84.90" fill="#8bb1dd"/>
<rect x="626.620" y="370.10" width="3.095" height="84.90" fill="#92b5de"/>
<rect x="630.515" y="370.10" width="3.095" height="84.90" fill="#99b9e0"/>
<rect x="634.410" y="370.70" width="3.095" height="84.30" fill="#9fbde1"/>
<rect x="638.305" y="371.00" width="3.095" height="84.00" fill="#a5c1e3"/>
<rect x="642.200" y="371.00" width="3.095" height="84.00" fill="#abc5e4"/>
<rect x="646.095" y="371.90" width="3.095" height="83.10" fill="#b1c8e6"/>
<rect x="649.990" y="372.80" width="3.095" height="82.20" fill="#b6cce7"/>
<rect x="653.885" y="371.90" width="3.095" height="83.10" fill="#bccfe9"/>
<rect x="657.780" y="371.90" width="3.095" height="83.10" fill="#c1d2ea"/>
<rect x="661.675" y="371.90" width="3.095" height="83.10" fill="#c5d6ec"/>
<rect x="665.570" y="372.80" width="3.095" height="82.20" fill="#cad9ed"/>
<rect x="669.465" y="452.00" width="3.095" height="3.00" fill="#cfdcee"/>
<rect x="673.360" y="370.80" width="3.095" height="84.20" fill="#d3dff0"/>
<rect x="677.255" y="369.60" width="3.095" height="85.40" fill="#d7e2f1"/>
<rect x="38" y="455" width="646" height="1" fill="#6a6a6a"/>
<rect x="38" y="456" width="646" height="1" fill="#f2f2f2"/>
<rect x="37" y="368.55" width="1" height="87.45" fill="#666"/>
<text x="344.2" y="16.20" font-family="Liberation Serif" text-rendering="geometricPrecision" style="font-kerning:none" font-size="20.6" text-anchor="middle" fill="#000">CSDM 0.4</text>
<text x="0" y="0" transform="translate(22.65,41.20) scale(0.93,1)" font-family="Liberation Serif" text-rendering="geometricPrecision" style="font-kerning:none" font-size="17.3" text-anchor="end" fill="#000">1</text>
<text x="22.9" y="84.95" font-family="Liberation Serif" text-rendering="geometricPrecision" style="font-kerning:none" font-size="17.3" text-anchor="end" fill="#000">0.5</text>
<text x="23.3" y="127.75" font-family="Liberation Serif" text-rendering="geometricPrecision" style="font-kerning:none" font-size="17.3" text-anchor="end" fill="#000">0</text>
<text x="0" y="0" transform="translate(118.50,148.85) scale(1,1.07)" font-family="Liberation Serif" text-rendering="geometricPrecision" style="font-kerning:none" font-size="17.3" text-anchor="middle" fill="#000">THUMS</text>
<text x="0" y="0" transform="translate(280.00,148.85) scale(1,1.07)" font-family="Liberation Serif" text-rendering="geometricPrecision" style="font-kerning:none" font-size="17.3" text-anchor="middle" fill="#000">GHBMC</text>
<text x="0" y="0" transform="translate(441.50,148.85) scale(1,1.07)" font-family="Liberation Serif" text-rendering="geometricPrecision" style="font-kerning:none" font-size="17.3" text-anchor="middle" fill="#000">THUMS_sliding</text>
<text x="0" y="0" transform="translate(603.00,148.85) scale(1,1.07)" font-family="Liberation Serif" text-rendering="geometricPrecision" style="font-kerning:none" font-size="17.3" text-anchor="middle" fill="#000">THUMS_MATpro</text>
<text x="344.2" y="185.40" font-family="Liberation Serif" text-rendering="geometricPrecision" style="font-kerning:none" font-size="20.8" text-anchor="middle" fill="#000">CSDM 0.25</text>
<text x="0" y="0" transform="translate(22.65,210.70) scale(0.93,1)" font-family="Liberation Serif" text-rendering="geometricPrecision" style="font-kerning:none" font-size="17.3" text-anchor="end" fill="#000">1</text>
<text x="22.9" y="250.80" font-family="Liberation Serif" text-rendering="geometricPrecision" style="font-kerning:none" font-size="17.3" text-anchor="end" fill="#000">0.5</text>
<text x="23.3" y="290.80" font-family="Liberation Serif" text-rendering="geometricPrecision" style="font-kerning:none" font-size="17.3" text-anchor="end" fill="#000">0</text>
<text x="0" y="0" transform="translate(118.50,312.05) scale(1,1.07)" font-family="Liberation Serif" text-rendering="geometricPrecision" style="font-kerning:none" font-size="17.3" text-anchor="middle" fill="#000">THUMS</text>
<text x="0" y="0" transform="translate(280.00,312.05) scale(1,1.07)" font-family="Liberation Serif" text-rendering="geometricPrecision" style="font-kerning:none" font-size="17.3" text-anchor="middle" fill="#000">GHBMC</text>
<text x="0" y="0" transform="translate(441.50,312.05) scale(1,1.07)" font-family="Liberation Serif" text-rendering="geometricPrecision" style="font-kerning:none" font-size="17.3" text-anchor="middle" fill="#000">THUMS_sliding</text>
<text x="0" y="0" transform="translate(603.00,312.05) scale(1,1.07)" font-family="Liberation Serif" text-rendering="geometricPrecision" style="font-kerning:none" font-size="17.3" text-anchor="middle" fill="#000">THUMS_MATpro</text>
<text x="344.2" y="348.40" font-family="Liberation Serif" text-rendering="geometricPrecision" style="font-kerning:none" font-size="20.6" text-anchor="middle" fill="#000">CSDM 0.1</text>
<text x="0" y="0" transform="translate(22.65,373.75) scale(0.93,1)" font-family="Liberation Serif" text-rendering="geometricPrecision" style="font-kerning:none" font-size="17.3" text-anchor="end" fill="#000">1</text>
<text x="22.9" y="417.25" font-family="Liberation Serif" text-rendering="geometricPrecision" style="font-kerning:none" font-size="17.3" text-anchor="end" fill="#000">0.5</text>
<text x="23.3" y="460.35" font-family="Liberation Serif" text-rendering="geometricPrecision" style="font-kerning:none" font-size="17.3" text-anchor="end" fill="#000">0</text>
<text x="0" y="0" transform="translate(118.50,481.05) scale(1,1.07)" font-family="Liberation Serif" text-rendering="geometricPrecision" style="font-kerning:none" font-size="17.3" text-anchor="middle" fill="#000">THUMS</text>
<text x="0" y="0" transform="translate(280.00,481.05) scale(1,1.07)" font-family="Liberation Serif" text-rendering="geometricPrecision" style="font-kerning:none" font-size="17.3" text-anchor="middle" fill="#000">GHBMC</text>
<text x="0" y="0" transform="translate(441.50,481.05) scale(1,1.07)" font-family="Liberation Serif" text-rendering="geometricPrecision" style="font-kerning:none" font-size="17.3" text-anchor="middle" fill="#000">THUMS_sliding</text>
<text x="0" y="0" transform="translate(603.00,481.05) scale(1,1.07)" font-family="Liberation Serif" text-rendering="geometricPrecision" style="font-kerning:none" font-size="17.3" text-anchor="middle" fill="#000">THUMS_MATpro</text>
</svg></div></body></html>
